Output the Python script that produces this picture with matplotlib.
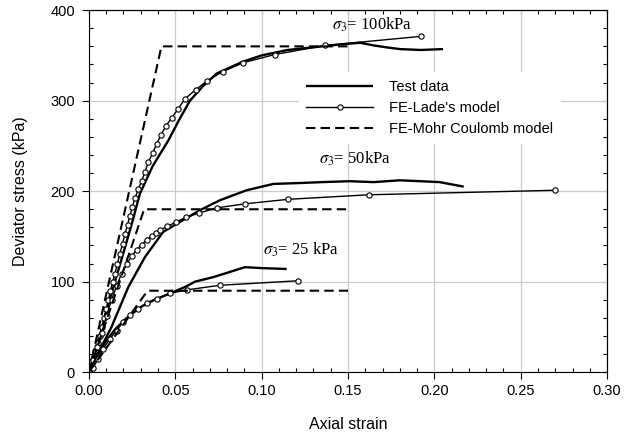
import matplotlib
matplotlib.use("Agg")
import matplotlib.pyplot as plt
from matplotlib.ticker import MultipleLocator

plt.rcParams["font.family"] = ["Liberation Sans", "DejaVu Sans"]
plt.rcParams["mathtext.fontset"] = "stix"

# sigma3 = 100 kPa
test100_x = [0, 0.004, 0.008, 0.012, 0.016, 0.020, 0.025, 0.0295, 0.037, 0.046, 0.052, 0.0585,
             0.066, 0.074, 0.089, 0.100, 0.115, 0.130, 0.145, 0.157, 0.165, 0.172, 0.180,
             0.192, 0.205]
test100_y = [0, 25, 52, 80, 106, 132, 165, 197, 228, 256, 278, 300,
             316, 330, 343, 350, 356, 359, 362, 364, 361, 359, 357,
             356, 357]
lade100_x = [0, 0.0012, 0.0025, 0.0037, 0.0050, 0.0062, 0.0075, 0.0087, 0.0100, 0.0113, 0.0125,
             0.0138, 0.0151, 0.0165, 0.0180, 0.0195, 0.0209, 0.0224, 0.0238, 0.0252, 0.0266,
             0.0286, 0.0305, 0.0324, 0.0344, 0.0369, 0.0392, 0.0417, 0.0446, 0.0479, 0.0517,
             0.0556, 0.0618, 0.0685, 0.0774, 0.0894, 0.1077, 0.1367, 0.192]
lade100_y = [0, 6, 15, 23, 32, 40, 50, 60, 70, 80, 90,
             100, 109, 120, 131, 142, 153, 163, 173, 183, 192,
             202, 211, 221, 232, 242, 252, 262, 272, 281, 291,
             302, 312, 322, 332, 342, 351, 361, 371]
mc100_x = [0, 0.042, 0.15]
mc100_y = [0, 360, 360]

# sigma3 = 50 kPa
test50_x = [0, 0.0054, 0.0131, 0.0228, 0.0324, 0.043, 0.0527, 0.0643, 0.0759, 0.0913, 0.1068,
            0.122, 0.135, 0.151, 0.165, 0.180, 0.192, 0.203, 0.217]
test50_y = [0, 21, 50, 94, 127, 155, 166, 179, 190, 201, 208,
            209, 210, 211, 210, 212, 211, 210, 205]
lade50_x = [0, 0.0025, 0.0049, 0.0073, 0.0102, 0.0131, 0.016, 0.0189, 0.0218, 0.0247, 0.0276,
            0.0305, 0.0334, 0.0363, 0.0387, 0.0411, 0.0454, 0.0504, 0.0562, 0.064, 0.0743,
            0.0903, 0.1154, 0.162, 0.270]
lade50_y = [0, 13, 28, 43, 62, 80, 95, 109, 119, 128, 135,
            141, 146, 151, 154, 157, 161, 166, 171, 176, 181.6,
            186, 191, 196, 201]
mc50_x = [0, 0.032, 0.15]
mc50_y = [0, 180, 180]

# sigma3 = 25 kPa
test25_x = [0, 0.004, 0.009, 0.015, 0.022, 0.03, 0.038, 0.047, 0.0566, 0.0614, 0.072, 0.082,
            0.0903, 0.1, 0.1145]
test25_y = [0, 15, 32, 47, 60, 72, 80, 87, 95, 100, 105, 111,
            116, 115, 114]
lade25_x = [0, 0.0025, 0.0054, 0.0083, 0.0122, 0.016, 0.0199, 0.0237, 0.0286, 0.0334, 0.0392,
            0.0469, 0.0569, 0.0759, 0.1212]
lade25_y = [0, 5, 15, 26, 37, 46, 55.6, 63, 70, 76.6, 81,
            87, 91, 96, 101]
mc25_x = [0, 0.034, 0.15]
mc25_y = [0, 90, 90]

fig = plt.figure(figsize=(6.35, 4.42), dpi=100)
ax = fig.add_axes([0.140, 0.158, 0.816, 0.819])

test_kw = dict(color="black", lw=1.7, solid_capstyle="butt")
lade_kw = dict(color="black", lw=1.0, marker="o", ms=3.8, mfc="white", mec="black", mew=0.8)
mc_kw = dict(color="black", lw=1.5, dashes=(4.5, 2.5))

ax.plot(test100_x, test100_y, label="Test data", **test_kw)
ax.plot(lade100_x, lade100_y, label="FE-Lade's model", **lade_kw)
ax.plot(mc100_x, mc100_y, label="FE-Mohr Coulomb model", **mc_kw)
ax.plot(test50_x, test50_y, **test_kw)
ax.plot(lade50_x, lade50_y, **lade_kw)
ax.plot(mc50_x, mc50_y, **mc_kw)
ax.plot(test25_x, test25_y, **test_kw)
ax.plot(lade25_x, lade25_y, **lade_kw)
ax.plot(mc25_x, mc25_y, **mc_kw)

serif = ["Liberation Serif", "DejaVu Serif"]
ax.text(0.141, 384, r"$\sigma_3$= 100kPa", fontsize=12, family=serif, va="center")
ax.text(0.133, 236, r"$\sigma_3$= 50kPa", fontsize=12, family=serif, va="center")
ax.text(0.101, 135, r"$\sigma_3$= 25 kPa", fontsize=12, family=serif, va="center")

ax.set_xlim(0, 0.30)
ax.set_ylim(0, 400)
ax.xaxis.set_major_locator(MultipleLocator(0.05))
ax.xaxis.set_minor_locator(MultipleLocator(0.01))
ax.yaxis.set_major_locator(MultipleLocator(100))
ax.yaxis.set_minor_locator(MultipleLocator(20))
ax.xaxis.set_major_formatter(plt.FuncFormatter(lambda v, p: f"{v:.2f}"))
ax.tick_params(which="major", direction="out", length=5, width=0.8, labelsize=10.5, colors="black")
ax.tick_params(axis="y", which="major", pad=5)
ax.tick_params(which="minor", direction="in", length=3, width=0.8)
ax.grid(True, which="major", color="#cccccc", lw=0.9)
ax.set_axisbelow(True)

# top / right ticks pointing in
top = ax.secondary_xaxis("top")
top.xaxis.set_major_locator(MultipleLocator(0.01))
top.tick_params(direction="in", length=3, width=0.8, labeltop=False)
right = ax.secondary_yaxis("right")
right.yaxis.set_major_locator(MultipleLocator(20))
right.tick_params(direction="in", length=3, width=0.8, labelright=False)

ax.set_xlabel("Axial strain", fontsize=11.5, labelpad=14)
ax.set_ylabel("Deviator stress (kPa)", fontsize=11.5, labelpad=16)

leg = ax.legend(loc="upper left", bbox_to_anchor=(0.405, 0.828), borderaxespad=0,
                fontsize=10.5, handlelength=4.6, handletextpad=1.1, labelspacing=0.5,
                frameon=True, fancybox=False, borderpad=0.5)
leg.get_frame().set_edgecolor("none")
leg.get_frame().set_facecolor("white")
leg.get_frame().set_alpha(1)

fig.savefig("out.png", dpi=100)
